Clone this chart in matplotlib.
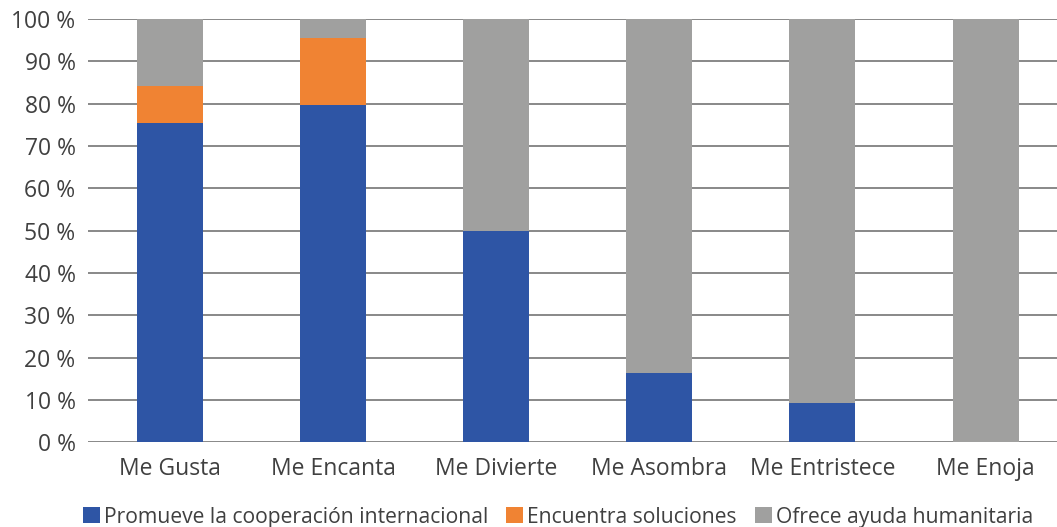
import numpy as np
import matplotlib.pyplot as plt

plt.rcParams['font.family'] = ['Open Sans', 'DejaVu Sans']

categories = ['Me Gusta', 'Me Encanta', 'Me Divierte', 'Me Asombra', 'Me Entristece', 'Me Enoja']
promueve = [75.4, 79.7, 50.0, 16.4, 9.3, 0.0]
encuentra = [8.8, 15.8, 0.0, 0.0, 0.0, 0.0]
ofrece = [100 - p - e for p, e in zip(promueve, encuentra)]
series_names = ['Promueve la cooperación internacional', 'Encuentra soluciones', 'Ofrece ayuda humanitaria']
colors = ['#2E55A5', '#F08333', '#A0A09F']

fig = plt.figure(figsize=(10.57, 5.27), dpi=100)
ax = fig.add_axes([0.0833, 0.161, 0.9167, 0.803])

x = np.arange(len(categories))
w = 0.405
bottom = np.zeros(len(categories))
for vals, name, c in zip([promueve, encuentra, ofrece], series_names, colors):
    ax.bar(x, vals, w, bottom=bottom, color=c, label=name, zorder=3)
    bottom += np.array(vals)

ax.set_xlim(-0.503, 5.438)
ax.set_ylim(0, 100)
ax.set_yticks(np.arange(0, 101, 10))
ax.set_yticklabels([f'{v} %' for v in range(0, 101, 10)])
ax.set_xticks(x)
ax.set_xticklabels(categories)
ax.grid(axis='y', color='#7F7F7F', linewidth=1.3, zorder=0)
for s in ax.spines.values():
    s.set_visible(False)
ax.tick_params(axis='both', length=0, labelsize=16.5, colors='#404040')
ax.tick_params(axis='x', pad=11)
ax.tick_params(axis='y', pad=9)

ax.legend(loc='lower center', bbox_to_anchor=(0.485, -0.247), ncol=3, frameon=False,
          fontsize=15.2, handlelength=0.8, handleheight=0.8, handletextpad=0.2,
          columnspacing=0.85, labelcolor='#404040')

fig.savefig('out.png', dpi=100)
